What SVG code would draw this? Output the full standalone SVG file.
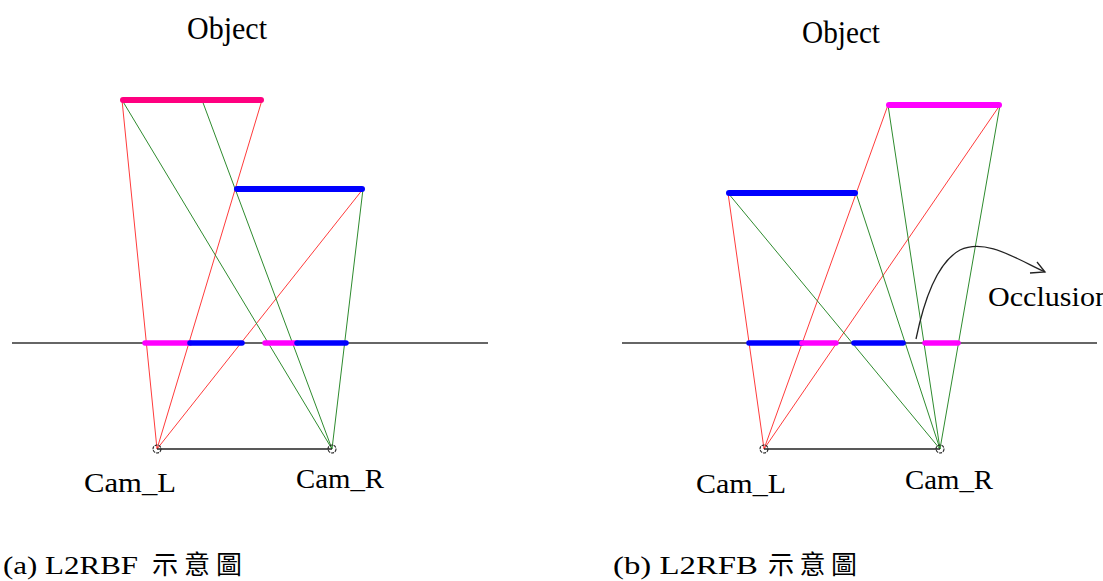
<svg xmlns="http://www.w3.org/2000/svg" width="1103" height="581" viewBox="0 0 1103 581">
<style>
.bg{fill:#fff}
.axis{stroke:#333;stroke-width:1.3;fill:none}
.base{stroke:#222;stroke-width:1.3;fill:none}
.r{stroke:#ff3b3b;stroke-width:1;fill:none}
.g{stroke:#2e8b2e;stroke-width:1;fill:none}
.bar{stroke-width:6;stroke-linecap:round;fill:none}
.seg{stroke-width:5.5;stroke-linecap:round;fill:none}
.pk{stroke:#ff0080}
.mg{stroke:#ff00ff}
.bl{stroke:#0000ff}
.cam{fill:none;stroke:#222;stroke-width:1.1;stroke-dasharray:3 1}
.lbl{font-family:"Liberation Serif","Times New Roman",serif;fill:#000}
.cap{font-family:"Liberation Serif","Noto Sans CJK TC",serif;font-size:26px;fill:#000}
</style>
<rect class="bg" x="0" y="0" width="1103" height="581"/>

<g id="connectors">
  <!-- left diagram rays -->
  <line class="r" x1="157" y1="449" x2="122" y2="100"/>
  <line class="r" x1="157" y1="449" x2="262" y2="100"/>
  <line class="r" x1="157" y1="449" x2="363" y2="189"/>
  <line class="g" x1="332" y1="449" x2="122" y2="100"/>
  <line class="g" x1="332" y1="449" x2="202" y2="100"/>
  <line class="g" x1="332" y1="449" x2="363" y2="189"/>
  <!-- right diagram rays -->
  <line class="r" x1="764" y1="449" x2="728" y2="193"/>
  <line class="r" x1="764" y1="449" x2="888" y2="105"/>
  <line class="r" x1="764" y1="449" x2="1000" y2="105"/>
  <line class="g" x1="940" y1="449" x2="728" y2="193"/>
  <line class="g" x1="940" y1="449" x2="856" y2="193"/>
  <line class="g" x1="940" y1="449" x2="888" y2="105"/>
  <line class="g" x1="940" y1="449" x2="1000" y2="105"/>
  <!-- occlusion arrow -->
  <path class="base" d="M916 339 C924 300 938 262 960 250 C985 238 1015 258 1045 272"/>
  <path class="base" d="M1037 262 L1045 272 L1030 273"/>
</g>

<g id="left-diagram">
  <line class="axis" x1="12" y1="343" x2="488" y2="343"/>
  <line class="base" x1="157" y1="449" x2="332" y2="449"/>
  <line class="bar pk" x1="123" y1="100" x2="261" y2="100"/>
  <line class="bar bl" x1="237" y1="189" x2="362" y2="189"/>
  <line class="seg mg" x1="145" y1="343" x2="190" y2="343"/>
  <line class="seg bl" x1="190" y1="343" x2="242" y2="343"/>
  <line class="seg mg" x1="265" y1="343" x2="297" y2="343"/>
  <line class="seg bl" x1="297" y1="343" x2="346" y2="343"/>
  <circle class="cam" cx="157" cy="449" r="4"/>
  <circle class="cam" cx="332" cy="449" r="4"/>
</g>

<g id="right-diagram">
  <line class="axis" x1="622" y1="343" x2="1097" y2="343"/>
  <line class="base" x1="764" y1="449" x2="940" y2="449"/>
  <line class="bar mg" x1="889" y1="105" x2="999" y2="105"/>
  <line class="bar bl" x1="729" y1="193" x2="855" y2="193"/>
  <line class="seg bl" x1="749" y1="343" x2="802" y2="343"/>
  <line class="seg mg" x1="802" y1="343" x2="836" y2="343"/>
  <line class="seg bl" x1="854" y1="343" x2="903" y2="343"/>
  <line class="seg mg" x1="925" y1="343" x2="958" y2="343"/>
  <circle class="cam" cx="764" cy="449" r="4"/>
  <circle class="cam" cx="940" cy="449" r="4"/>
</g>

<g id="labels">
  <text class="lbl" x="187" y="39" font-size="31" textLength="80" lengthAdjust="spacingAndGlyphs">Object</text>
  <text class="lbl" x="802" y="43" font-size="31" textLength="78" lengthAdjust="spacingAndGlyphs">Object</text>
  <text class="lbl" x="84" y="492" font-size="27" textLength="92" lengthAdjust="spacingAndGlyphs">Cam_L</text>
  <text class="lbl" x="296" y="488" font-size="27" textLength="88" lengthAdjust="spacingAndGlyphs">Cam_R</text>
  <text class="lbl" x="696" y="493" font-size="27" textLength="90" lengthAdjust="spacingAndGlyphs">Cam_L</text>
  <text class="lbl" x="905" y="489" font-size="27" textLength="88" lengthAdjust="spacingAndGlyphs">Cam_R</text>
  <text class="lbl" x="988" y="306" font-size="28" textLength="122" lengthAdjust="spacingAndGlyphs">Occlusion</text>
</g>

<g id="captions">
  <text class="cap" x="3" y="574" textLength="135" lengthAdjust="spacingAndGlyphs">(a) L2RBF</text>
  <text class="cap" x="152" y="574" textLength="90" lengthAdjust="spacing">示意圖</text>
  <text class="cap" x="613" y="574" textLength="145" lengthAdjust="spacingAndGlyphs">(b) L2RFB</text>
  <text class="cap" x="768" y="574" textLength="89" lengthAdjust="spacing">示意圖</text>
</g>
</svg>
